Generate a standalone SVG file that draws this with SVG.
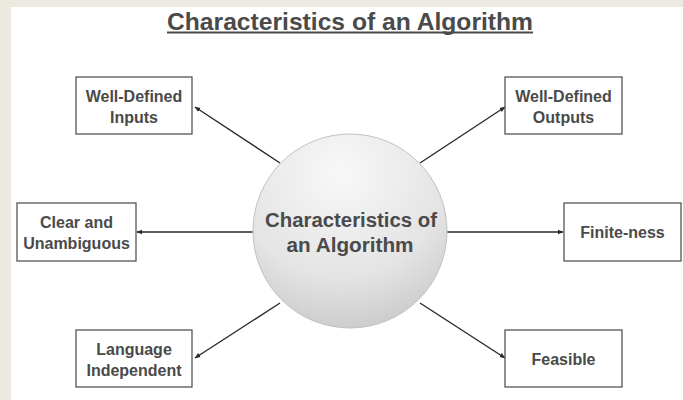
<svg xmlns="http://www.w3.org/2000/svg" width="683" height="400" viewBox="0 0 683 400">
<defs>
<style>
.box{fill:#fff;stroke:#555;stroke-width:1.3}
.lbl{font-family:"Liberation Sans",Arial,sans-serif;font-weight:bold;font-size:16px;fill:#4a4a4a;text-anchor:middle}
.big{font-family:"Liberation Sans",Arial,sans-serif;font-weight:bold;fill:#4a4a4a;text-anchor:middle}
.con{stroke:#2a2a2a;stroke-width:1.4;fill:none;marker-end:url(#ah)}
</style>
<marker id="ah" viewBox="0 0 10 10" refX="9" refY="5" markerWidth="6" markerHeight="6" orient="auto" markerUnits="userSpaceOnUse">
<path d="M0,1 L10,5 L0,9 z" fill="#2a2a2a"/>
</marker>
<radialGradient id="cg" cx="0.45" cy="0.2" r="0.9">
<stop offset="0" stop-color="#f8f8f8"/>
<stop offset="0.6" stop-color="#e4e4e4"/>
<stop offset="1" stop-color="#c4c4c4"/>
</radialGradient>
</defs>
<rect x="0" y="0" width="683" height="400" fill="#ECEAE0"/>
<rect x="11" y="7" width="672" height="393" fill="#fff"/>
<g id="title">
<text class="big" x="350" y="30" font-size="24" textLength="366" lengthAdjust="spacingAndGlyphs">Characteristics of an Algorithm</text>
<rect x="167" y="31.5" width="366" height="2" fill="#4a4a4a"/>
</g>
<g id="connectors">
<line class="con" x1="280" y1="163" x2="195" y2="107"/>
<line class="con" x1="253" y1="232" x2="137" y2="232"/>
<line class="con" x1="280" y1="303" x2="195" y2="358"/>
<line class="con" x1="420" y1="163" x2="505" y2="107"/>
<line class="con" x1="447" y1="232" x2="563" y2="232"/>
<line class="con" x1="420" y1="303" x2="505" y2="358"/>
</g>
<g id="center">
<circle cx="350" cy="231" r="97" fill="url(#cg)" stroke="#c2c2c2" stroke-width="1"/>
<text class="big" x="351" y="227" font-size="19.5" textLength="172" lengthAdjust="spacingAndGlyphs">Characteristics of</text>
<text class="big" x="350" y="252" font-size="19.5" textLength="127" lengthAdjust="spacingAndGlyphs">an Algorithm</text>
</g>
<g id="inputs">
<rect class="box" x="76" y="77" width="116" height="57"/>
<text class="lbl" x="134" y="102">Well-Defined</text>
<text class="lbl" x="134" y="123">Inputs</text>
</g>
<g id="clear">
<rect class="box" x="17" y="203" width="119" height="58"/>
<text class="lbl" x="76.5" y="228">Clear and</text>
<text class="lbl" x="76.5" y="249">Unambiguous</text>
</g>
<g id="language">
<rect class="box" x="76" y="330" width="116" height="57"/>
<text class="lbl" x="134" y="355">Language</text>
<text class="lbl" x="134" y="376">Independent</text>
</g>
<g id="outputs">
<rect class="box" x="505" y="77" width="117" height="57"/>
<text class="lbl" x="563.5" y="102">Well-Defined</text>
<text class="lbl" x="563.5" y="123">Outputs</text>
</g>
<g id="finite">
<rect class="box" x="564" y="203" width="117" height="58"/>
<text class="lbl" x="622.5" y="238">Finite-ness</text>
</g>
<g id="feasible">
<rect class="box" x="505" y="330" width="117" height="57"/>
<text class="lbl" x="563.5" y="365">Feasible</text>
</g>
</svg>
